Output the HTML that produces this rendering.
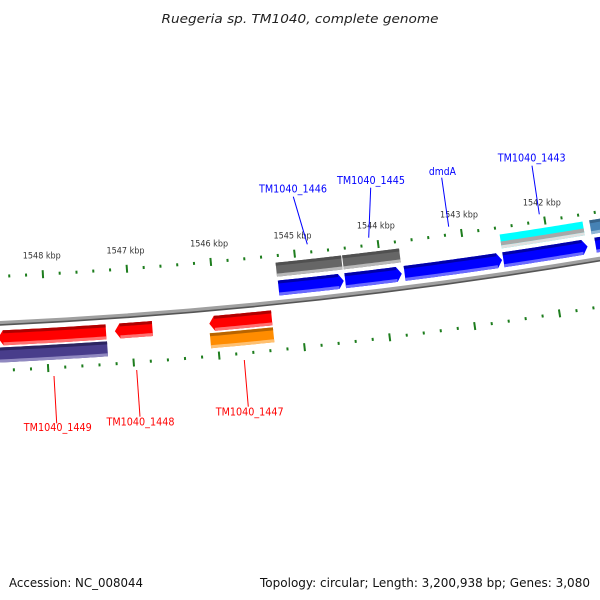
<!DOCTYPE html>
<html><head><meta charset="utf-8"><style>
html,body{margin:0;padding:0;background:#fff;}
svg{display:block;font-family:"DejaVu Sans","Liberation Sans",sans-serif;}
</style></head><body>
<svg id="map" width="600" height="600" viewBox="0 0 600 600">
<text x="300" y="23" text-anchor="middle" font-size="12" font-style="italic" fill="#222" textLength="277" lengthAdjust="spacingAndGlyphs">Ruegeria sp. TM1040, complete genome</text>
<text x="9" y="587" font-size="12" fill="#111" textLength="134" lengthAdjust="spacingAndGlyphs">Accession: NC_008044</text>
<text x="590" y="587" text-anchor="end" font-size="12" fill="#111" textLength="330" lengthAdjust="spacingAndGlyphs">Topology: circular; Length: 3,200,938 bp; Genes: 3,080</text>
<g id="layer"></g>
</svg>
<script>
// ---- data ----
const featStart = [1544454,1543761,1541561,1540800, 1544456,1543766,1542571,1541550,1540500, 1547298,1546752,1545346, 1547294,1545344];
const featEnd   = [1545235,1544441,1542556,1541480, 1545230,1544439,1543733,1542556,1541454, 1548567,1547194,1546082, 1549500,1546086];
const featType  = ['gray','gray','cyan','steel', 'blue','blue','blue','blue','blue', 'red','red','red', 'purple','orange'];
const featRing  = [0,0,0,0, 1,1,1,1,1, 2,2,2, 3,3];
const featDir   = [0,0,0,0, 1,1,1,1,1, -1,-1,-1, 0,0];
const tickLabelsKbp = [1548,1547,1546,1545,1544,1543,1542];
const geneNames = ['TM1040_1446','TM1040_1445','dmdA','TM1040_1443','TM1040_1449','TM1040_1448','TM1040_1447'];
const geneStrand = [1,1,1,1,-1,-1,-1];
// label layout (pixel positions, not data)
const labelLayout = [
 [293,192.7,293.3,196.7,307.3,244.3,68],
 [371,184,370.7,187.7,368.7,237.7,68],
 [442.4,175,441.7,177.7,448.7,226.7,27],
 [531.7,161.7,532,165.7,539.3,214.3,68],
 [57.8,431,54,376,56.7,423.3,68],
 [140.5,425.7,136.7,370,140,416.7,68],
 [249.7,415.7,244.3,360,248.3,406.7,68]
];
// ---- geometry ----
const CX=-237, CY=-4721;
const T0=0.05597, K=1.6825e-5, REF=1548000;
const rings=[[5010,5024],[5028,5043],[5057,5072],[5074,5089]];
const colors={
 gray:['#505050','#666666','#b8b8b8'],
 cyan:['#00d8d8','#00ffff','#cfcfcf'],
 steel:['#36648c','#4682b4','#8fb5d6'],
 blue:['#0000a8','#0000ff','#6a6aff'],
 red:['#b00000','#ff0000','#ff7070'],
 purple:['#2c2560','#483d8b','#9089c0'],
 orange:['#b86400','#ff8c00','#ffc070']
};
const TIP=60;
function th(bp){return T0+(REF-bp)*K;}
function pt(r,bp){const t=th(bp);return [CX+r*Math.sin(t),CY+r*Math.cos(t)];}
function f(p){return p[0].toFixed(2)+','+p[1].toFixed(2);}
function arcPts(r,b1,b2,n){const a=[];for(let i=0;i<=n;i++){a.push(pt(r,b1+(b2-b1)*i/n));}return a;}
function shapePath(r1,r2,a,b,dir){
  const aa=dir===1?a+TIP:a, bb=dir===-1?b-TIP:b, m=(r1+r2)/2;
  let pts=arcPts(r1,bb,aa,24);
  if(dir===1)pts.push(pt(m,a));
  pts=pts.concat(arcPts(r2,aa,bb,24));
  if(dir===-1)pts.push(pt(m,b));
  return 'M'+pts.map(f).join('L')+'Z';
}
const NS='http://www.w3.org/2000/svg';
const layer=document.getElementById('layer');
function mk(tag,attrs){const e=document.createElementNS(NS,tag);for(const k in attrs)e.setAttribute(k,attrs[k]);layer.appendChild(e);return e;}

// backbone
const bb1=mk('circle',{cx:CX,cy:CY,r:5049.5,fill:'none',stroke:'#a0a0a0','stroke-width':4});


const bb2=mk('circle',{cx:CX,cy:CY,r:5051.5,fill:'none',stroke:'#555','stroke-width':1.6});



// ticks
for(let bp=1540000;bp<=1550000;bp+=200){
  const major=(bp%1000===0);
  const len=major?8:3;
  [5003,5097].forEach(function(rc,ri){
    const p1=pt(rc-len/2,bp),p2=pt(rc+len/2,bp);
    const l=mk('line',{x1:p1[0],y1:p1[1],x2:p2[0],y2:p2[1],stroke:'#1d7d1d','stroke-width':2});
    
    
  });
}
tickLabelsKbp.forEach(function(k){
  const p=pt(4984,k*1000);
  const t=mk('text',{x:p[0],y:p[1]+3.5,'text-anchor':'middle','font-size':9,fill:'#333',textLength:38,lengthAdjust:'spacingAndGlyphs'});
  t.textContent=k+' kbp';
  
  
});

// features
for(let i=0;i<featStart.length;i++){
  const rg=rings[featRing[i]], c=colors[featType[i]];
  const a=featStart[i], b=featEnd[i], d=featDir[i];
  const g=mk('g',{});
  
  
  const body=document.createElementNS(NS,'path');
  body.setAttribute('d',shapePath(rg[0],rg[1],a,b,d));
  body.setAttribute('fill',c[1]);
  g.appendChild(body);
  const aa=d===1?a+TIP:a, bb=d===-1?b-TIP:b;
  if(featType[i]==='cyan'){
    const mid=(rg[0]+rg[1])/2;
    const s1=document.createElementNS(NS,'path');
    s1.setAttribute('d',shapePath(mid,rg[1]-3,aa,bb,0));s1.setAttribute('fill','#a8a8a8');g.appendChild(s1);
    const s2=document.createElementNS(NS,'path');
    s2.setAttribute('d',shapePath(rg[1]-3,rg[1],aa,bb,0));s2.setAttribute('fill','#e0e0e0');g.appendChild(s2);
  } else {
    const s1=document.createElementNS(NS,'path');
    s1.setAttribute('d',shapePath(rg[0],rg[0]+3,aa,bb,0));s1.setAttribute('fill',c[0]);g.appendChild(s1);
    const s2=document.createElementNS(NS,'path');
    s2.setAttribute('d',shapePath(rg[1]-3,rg[1],aa,bb,0));s2.setAttribute('fill',c[2]);g.appendChild(s2);
  }
  layer.appendChild(g);
}

// gene labels
geneNames.forEach(function(n,i){
  const L=labelLayout[i], col=geneStrand[i]>0?'#0000ff':'#ff0000';
  const ln=mk('line',{x1:L[2],y1:L[3],x2:L[4],y2:L[5],stroke:col,'stroke-width':1});
  
  
  const t=mk('text',{x:L[0],y:L[1],'text-anchor':'middle','font-size':11,fill:col,textLength:L[6],lengthAdjust:'spacingAndGlyphs'});
  t.textContent=n;
  
  
});
</script>
</body></html>
